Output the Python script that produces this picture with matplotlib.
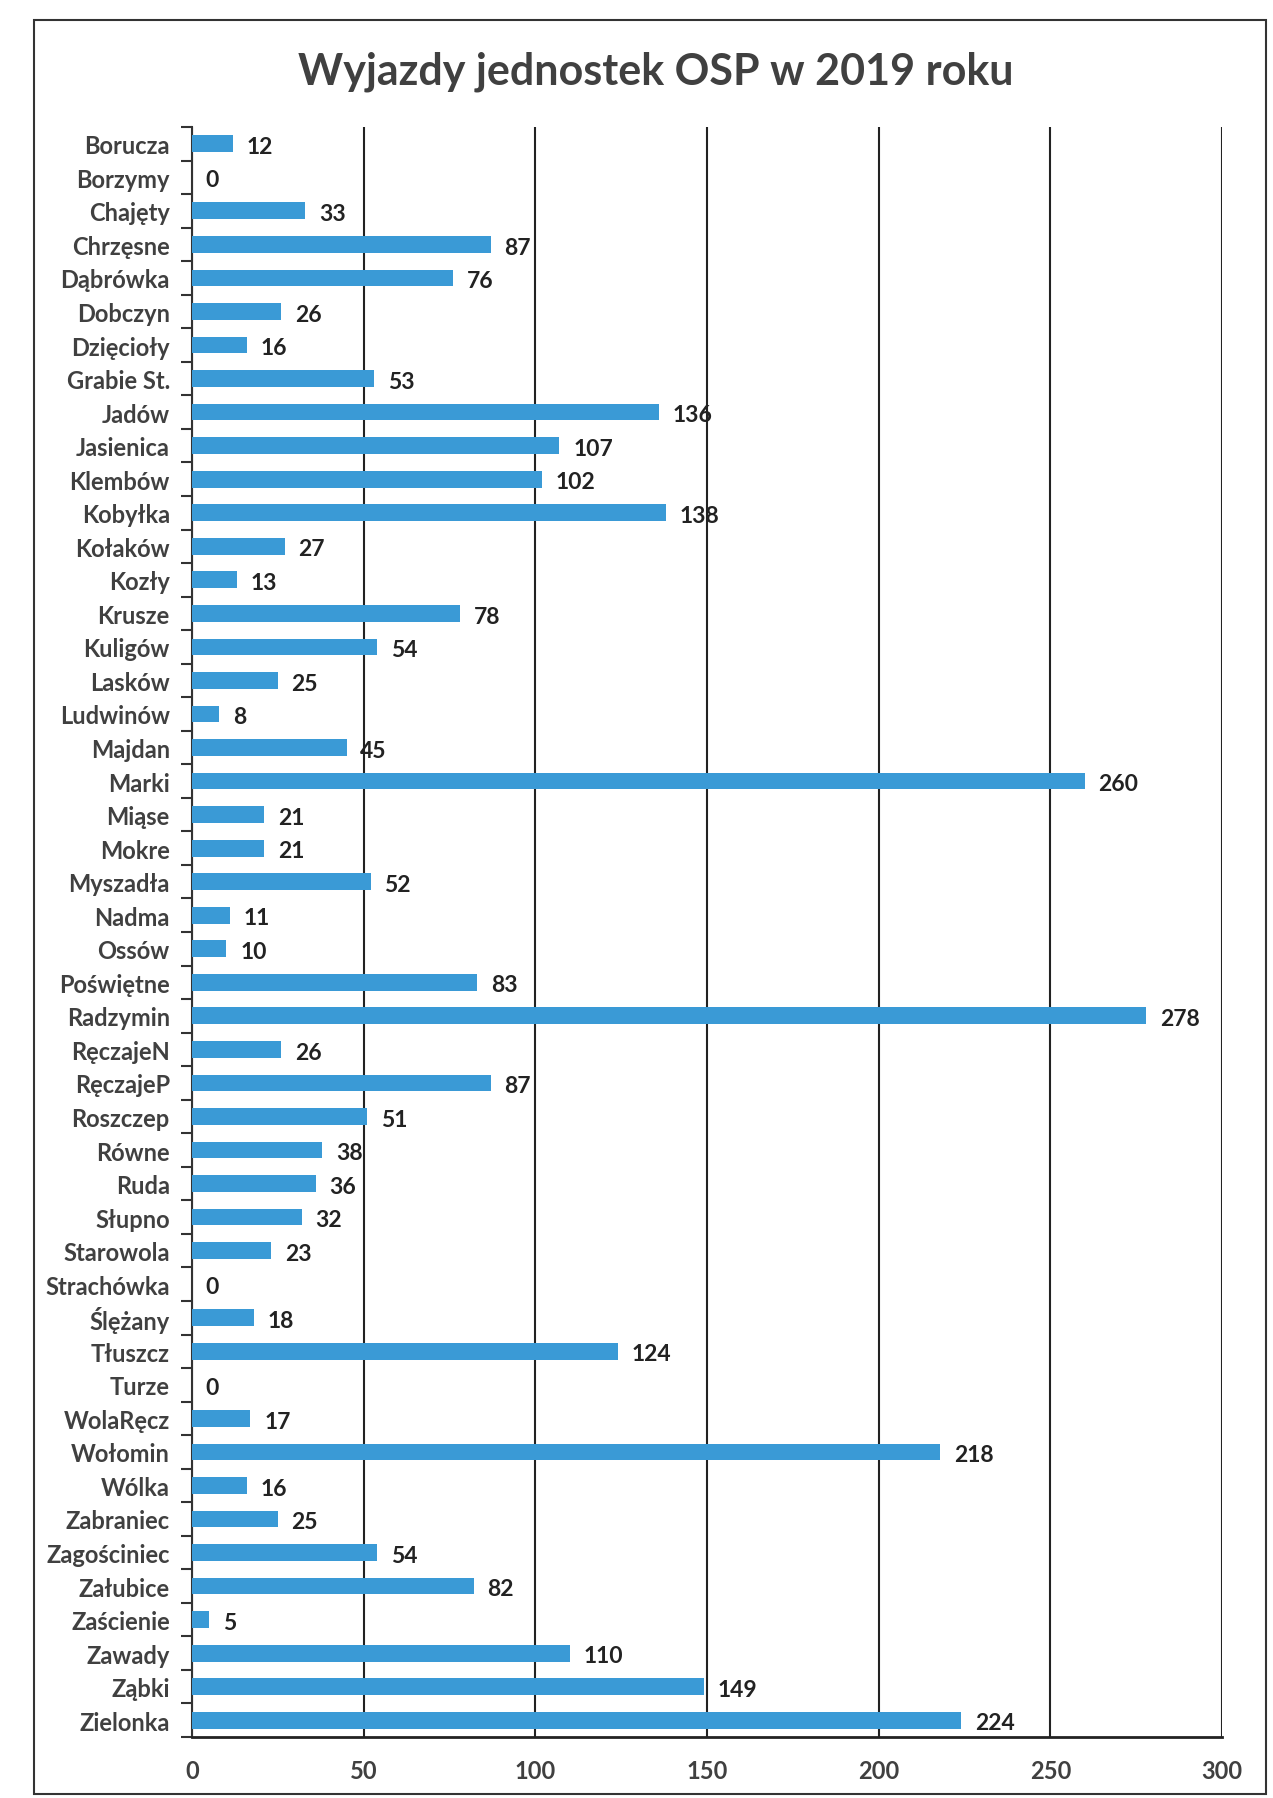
"""
Wyjazdy jednostek OSP w 2019 roku - horizontal bar chart.
"""
import matplotlib

matplotlib.use("Agg")
import matplotlib.pyplot as plt
from matplotlib.patches import Rectangle

units = [
    "Borucza", "Borzymy", "Chajęty", "Chrzęsne", "Dąbrówka", "Dobczyn",
    "Dzięcioły", "Grabie St.", "Jadów", "Jasienica", "Klembów", "Kobyłka",
    "Kołaków", "Kozły", "Krusze", "Kuligów", "Lasków", "Ludwinów", "Majdan",
    "Marki", "Miąse", "Mokre", "Myszadła", "Nadma", "Ossów", "Poświętne",
    "Radzymin", "RęczajeN", "RęczajeP", "Roszczep", "Równe", "Ruda",
    "Słupno", "Starowola", "Strachówka", "Ślężany", "Tłuszcz", "Turze",
    "WolaRęcz", "Wołomin", "Wólka", "Zabraniec", "Zagościniec", "Załubice",
    "Zaścienie", "Zawady", "Ząbki", "Zielonka",
]
trips = [
    12, 0, 33, 87, 76, 26, 16, 53, 136, 107, 102, 138, 27, 13, 78, 54, 25, 8,
    45, 260, 21, 21, 52, 11, 10, 83, 278, 26, 87, 51, 38, 36, 32, 23, 0, 18,
    124, 0, 17, 218, 16, 25, 54, 82, 5, 110, 149, 224,
]
x_ticks = [0, 50, 100, 150, 200, 250, 300]

BAR = "#3a9ad6"
TXT = "#404040"

plt.rcParams["font.family"] = ["Lato", "DejaVu Sans"]

fig = plt.figure(figsize=(12.73, 17.99), dpi=100)
W, H = 1273, 1799
ax = fig.add_axes([192 / W, 1 - 1738 / H, (1222 - 192) / W, (1738 - 128) / H])

# outer frame of the chart area
fig.patches.append(Rectangle((34 / W, 4 / H), (1266 - 34) / W, (1778 - 4) / H,
                             transform=fig.transFigure, fill=False,
                             edgecolor="#333333", linewidth=1.5))

ypos = list(range(len(units)))
ax.barh(ypos, trips, height=0.5, color=BAR, zorder=3)
for y, v in zip(ypos, trips):
    ax.text(v + 4, y + 0.08, str(v), va="center", ha="left", fontsize=16.5,
            fontweight="bold", color="#222222", zorder=4)

ax.set_ylim(len(units) - 0.5, -0.5)
ax.set_xlim(0, 300)
ax.set_xticks(x_ticks)
ax.set_xticklabels([str(t) for t in x_ticks], fontsize=17, fontweight="bold", color=TXT)
ax.set_yticks(ypos)
ax.set_yticklabels(units, fontsize=17, fontweight="bold", color=TXT)
ax.set_yticks([y + 0.5 for y in [-1] + ypos], minor=True)
ax.tick_params(axis="y", which="major", length=0, pad=16)
ax.tick_params(axis="y", which="minor", length=8, width=1.5, color="#333333")
ax.tick_params(axis="x", length=0, pad=16)

ax.grid(axis="x", color="#222222", linewidth=1.5, zorder=0)
for side in ("top", "right"):
    ax.spines[side].set_visible(False)
ax.spines["left"].set_color("#333333")
ax.spines["left"].set_linewidth(1.5)
ax.spines["bottom"].set_color("#222222")
ax.spines["bottom"].set_linewidth(2)

fig.text(0.515, 1 - 72 / H, "Wyjazdy jednostek OSP w 2019 roku", ha="center",
         va="center", fontsize=31, fontweight="bold", color=TXT)

fig.savefig("out.png", dpi=100)
plt.close(fig)
